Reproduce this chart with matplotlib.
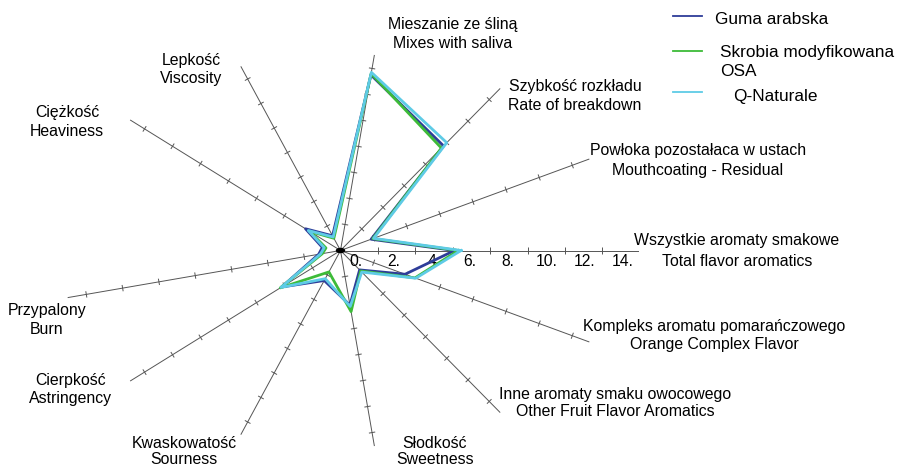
import numpy as np
import matplotlib
matplotlib.use('Agg')
import matplotlib.pyplot as plt
from matplotlib.collections import LineCollection

plt.rcParams['font.family'] = ['Liberation Sans', 'DejaVu Sans']

# attributes, counter-clockwise starting at the right-hand axis
# (13 slots, slot 6 has no label in the original chart)
labels_pl = ['Wszystkie aromaty smakowe', 'Powłoka pozostałaca w ustach', 'Szybkość rozkładu',
             'Mieszanie ze śliną', 'Lepkość', 'Ciężkość', '', 'Przypalony', 'Cierpkość',
             'Kwaskowatość', 'Słodkość', 'Inne aromaty smaku owocowego', 'Kompleks aromatu pomarańczowego']
labels_en = ['Total flavor aromatics', 'Mouthcoating - Residual', 'Rate of breakdown',
             'Mixes with saliva', 'Viscosity', 'Heaviness', '', 'Burn', 'Astringency',
             'Sourness', 'Sweetness', 'Other Fruit Flavor Aromatics', 'Orange Complex Flavor']

guma = [6.1, 1.85, 9.7, 13.5, 1.2, 2.5, 1.0, 1.2, 4.2, 2.45, 4.2, 1.8, 3.9]
skrobia = [6.3, 1.95, 9.5, 13.6, 1.0, 2.2, 0.8, 1.0, 4.3, 1.75, 4.7, 1.9, 4.5]
qnat = [6.45, 2.0, 10.0, 13.7, 1.1, 2.3, 0.9, 1.1, 4.25, 2.3, 4.3, 2.0, 4.55]

series_names = ['Guma arabska', 'Skrobia modyfikowana', 'Q-Naturale']
colors = ['#2e3d99', '#3dbb38', '#5ecbe6']

tick_vals = [0, 2, 4, 6, 8, 10, 12, 14]
tick_text = ['0.', '2.', '4', '6.', '8.', '10.', '12.', '14.']

# pixel layout: chart is squashed vertically (pixels per unit along x / y)
W, H = 905, 468
cx, cy = 340.5, 250.5
sx, sy = 18.7, 13.1

n = len(labels_en)
ang = np.arange(n) * 2 * np.pi / n
cos, sin = np.cos(ang), np.sin(ang)

fig = plt.figure(figsize=(W / 100, H / 100), dpi=100)
ax = fig.add_axes([0, 0, 1, 1])
ax.set_xlim(-cx / sx, (W - cx) / sx)
ax.set_ylim(-(H - cy) / sy, cy / sy)
ax.axis('off')

# spokes and ticks
spoke_len = [15.9] + [15.0] * (n - 1)
segs = []
for i in range(n):
    if labels_en[i] == '':
        continue
    ax.plot([0, spoke_len[i] * cos[i]], [0, spoke_len[i] * sin[i]], color='#555555', lw=0.7, zorder=1)
    dx, dy = sx * cos[i], sy * sin[i]
    L = np.hypot(dx, dy)
    px, py = -dy / L * 3.2 / sx, dx / L * 3.2 / sy
    for v in tick_vals[1:]:
        x0, y0 = v * cos[i], v * sin[i]
        segs.append([(x0 - px, y0 - py), (x0 + px, y0 + py)])
ax.add_collection(LineCollection(segs, colors='#555555', linewidths=0.7, zorder=1))

# centre dot
ax.add_patch(matplotlib.patches.Ellipse((0, 0), 8 / sx, 4 / sy, color='black', zorder=5))

# tick labels along the first axis
for v, t in zip(tick_vals, tick_text):
    ax.text(v * 1.02 + 0.8, -0.85, t, ha='center', va='center', fontsize=11.3)

# data polygons
for vals, c in zip([guma, skrobia, qnat], colors):
    r = np.array(vals + vals[:1])
    a = np.append(ang, ang[0])
    ax.plot(r * np.cos(a), r * np.sin(a), color=c, lw=2.0, zorder=3)

# attribute labels (pixel positions: x centre, y of polish line, y of english line)
label_pos = [(737, 241, 262), (698, 151, 170), (575, 87, 106), (453, 24, 43), (191, 60, 78),
             (67, 113, 131), None, (47, 311, 329), (71, 381, 398), (184, 444, 460),
             (435, 443, 460), (615, 394, 412), (714, 327, 344)]
for i, p in enumerate(label_pos):
    if p is None:
        continue
    x, y1, y2 = p
    fig.text(x / W, 1 - y1 / H, labels_pl[i], ha='center', va='center', fontsize=11.4)
    fig.text(x / W, 1 - y2 / H, labels_en[i], ha='center', va='center', fontsize=11.4)

# legend drawn by hand
leg_y = [16, 51, 92]
for yy, c in zip(leg_y, colors):
    fig.add_artist(plt.Line2D([673 / W, 702 / W], [1 - yy / H, 1 - yy / H], color=c, lw=1.3))
fig.text(715 / W, 1 - 19 / H, series_names[0], ha='left', va='center', fontsize=12.4)
fig.text(720 / W, 1 - 52 / H, series_names[1], ha='left', va='center', fontsize=12.4)
fig.text(720 / W, 1 - 71 / H, 'OSA', ha='left', va='center', fontsize=12.4)
fig.text(733 / W, 1 - 97 / H, series_names[2], ha='left', va='center', fontsize=12.4)

fig.savefig('out.png', dpi=100)
